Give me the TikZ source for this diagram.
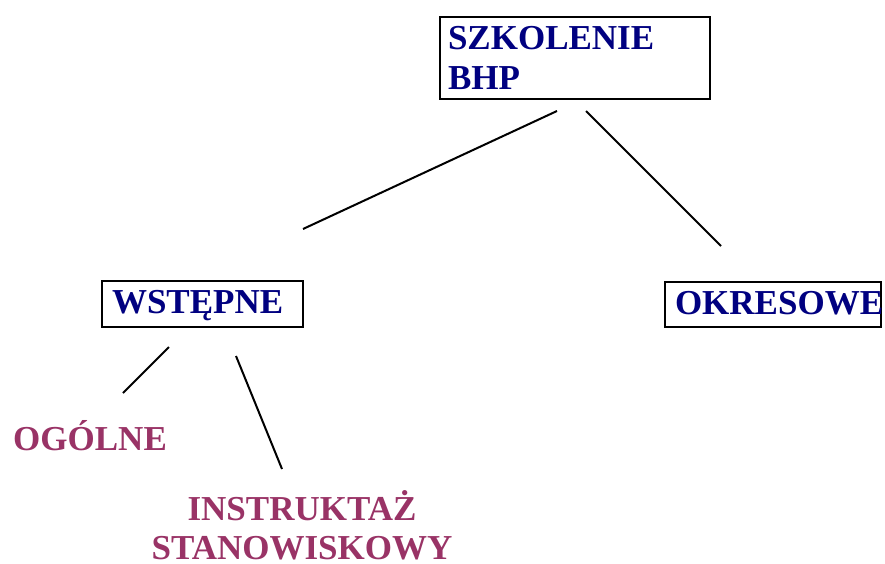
\documentclass[tikz,border=0pt]{standalone}
\usepackage{fontspec}
\setmainfont{Liberation Serif}
\definecolor{navytxt}{RGB}{0,0,128}
\definecolor{plumtxt}{RGB}{153,51,102}
\begin{document}
\begin{tikzpicture}[x=1pt,y=-1pt,
  txt/.style={font=\fontsize{35}{40}\selectfont\bfseries},
  boxnode/.style={txt, text=navytxt, draw=black, line width=2.6pt, align=left, inner ysep=0pt},
  leafnode/.style={txt, text=plumtxt, inner sep=0pt},
  conn/.style={line width=2pt, black}]
\useasboundingbox (0,0) rectangle (885,564);
\node[boxnode, minimum width=270, minimum height=82, inner xsep=8pt, text width=254pt] (szk) at (575,58) {SZKOLENIE\\BHP};
\node[boxnode, minimum width=201, minimum height=46, inner xsep=10pt, text width=181pt, text height=23pt, text depth=4pt] (wst) at (202.5,304) {WSTĘPNE};
\node[boxnode, minimum width=216, minimum height=45, inner xsep=10pt, text width=196pt, text height=23pt, text depth=4pt] (okr) at (773,304.5) {OKRESOWE};
\node[leafnode, anchor=base west] (ogo) at (13,450) {OGÓLNE};
\node[leafnode, anchor=base, align=center, font=\fontsize{35}{39}\selectfont\bfseries] (ins) at (302,559) {INSTRUKTAŻ\\STANOWISKOWY};
\coordinate (a1) at (557,111); \coordinate (a2) at (303,229);
\coordinate (b1) at (586,111); \coordinate (b2) at (721,246);
\coordinate (c1) at (169,347); \coordinate (c2) at (123,393);
\coordinate (d1) at (236,356); \coordinate (d2) at (282,469);
\draw[conn] (a1) -- (a2);
\draw[conn] (b1) -- (b2);
\draw[conn] (c1) -- (c2);
\draw[conn] (d1) -- (d2);
\end{tikzpicture}
\end{document}
